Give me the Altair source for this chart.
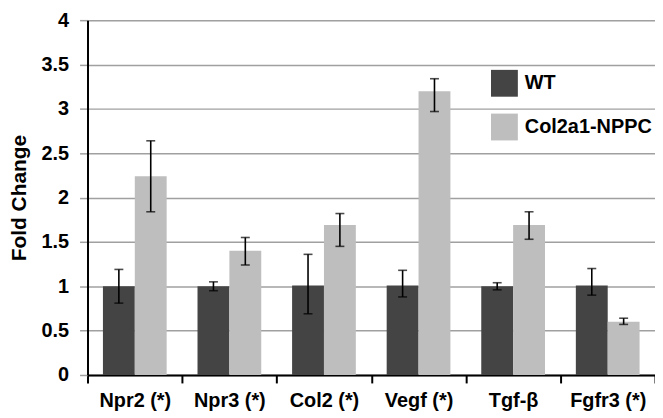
import altair as alt
import pandas as pd

genes = ["Npr2 (*)", "Npr3 (*)", "Col2 (*)", "Vegf (*)", "Tgf-β", "Fgfr3 (*)"]
groups = ["WT", "Col2a1-NPPC"]
colors = ["#444444", "#bebebe"]

wt_mean = [1.00, 1.00, 1.01, 1.01, 1.00, 1.01]
wt_low = [0.81, 0.95, 0.69, 0.88, 0.96, 0.90]
wt_high = [1.19, 1.05, 1.36, 1.18, 1.04, 1.20]

tg_mean = [2.24, 1.40, 1.69, 3.20, 1.69, 0.60]
tg_low = [1.84, 1.24, 1.45, 2.97, 1.53, 0.57]
tg_high = [2.64, 1.55, 1.82, 3.34, 1.84, 0.64]

rows = []
for i, g in enumerate(genes):
    rows.append({"gene": g, "group": "WT", "mean": wt_mean[i], "low": wt_low[i], "high": wt_high[i]})
    rows.append({"gene": g, "group": "Col2a1-NPPC", "mean": tg_mean[i], "low": tg_low[i], "high": tg_high[i]})
df = pd.DataFrame(rows)

FONT = "Liberation Sans"

x_enc = alt.X(
    "gene:N", sort=genes,
    scale=alt.Scale(paddingInner=0, paddingOuter=0),
    axis=alt.Axis(
        title=None, labelAngle=0, tickBand="extent", grid=False,
        domainColor="black", domainWidth=2, tickColor="black", tickWidth=2,
        tickSize=8, labelFont=FONT, labelFontSize=20, labelFontWeight="bold",
        labelColor="black", labelPadding=8,
    ),
)
xo_enc = alt.XOffset("group:N", sort=groups, scale=alt.Scale(paddingInner=0, paddingOuter=0.484))
y_scale = alt.Scale(domain=[0, 4], nice=False)
y_axis = alt.Axis(
    values=[0, 0.5, 1, 1.5, 2, 2.5, 3, 3.5, 4], format="~g",
    domainColor="black", domainWidth=2, gridColor="#a0a0a0", gridWidth=1.5,
    tickColor="#a0a0a0", tickWidth=1.5, tickSize=8,
    labelFont=FONT, labelFontSize=20, labelFontWeight="bold", labelColor="black",
    labelPadding=11, titleFont=FONT, titleFontSize=21, titleFontWeight="bold",
    titleColor="black", titlePadding=12,
)

base = alt.Chart(df).encode(x=x_enc, xOffset=xo_enc)

bars = base.mark_bar().encode(
    y=alt.Y("mean:Q", scale=y_scale, axis=y_axis, title="Fold Change"),
    color=alt.Color(
        "group:N", sort=groups,
        scale=alt.Scale(domain=groups, range=colors),
        legend=alt.Legend(
            title=None, orient="none", legendX=406, legendY=50,
            symbolType="square", symbolSize=729, symbolStrokeWidth=0,
            labelFont=FONT, labelFontSize=20, labelFontWeight="bold",
            labelColor="black", rowPadding=17, padding=0, labelOffset=7,
        ),
    ),
)

rules = base.mark_rule(color="black", strokeWidth=1.6).encode(
    y=alt.Y("low:Q", scale=y_scale, title="Fold Change"), y2="high:Q"
)
cap_lo = base.mark_tick(color="black", thickness=1.6, size=9, orient="horizontal").encode(
    y=alt.Y("low:Q", scale=y_scale, title="Fold Change")
)
cap_hi = base.mark_tick(color="black", thickness=1.6, size=9, orient="horizontal").encode(
    y=alt.Y("high:Q", scale=y_scale, title="Fold Change")
)

chart = alt.layer(bars, rules, cap_lo, cap_hi).properties(
    width=571, height=357,
    autosize=alt.AutoSizeParams(type="none"),
    padding={"left": 80, "top": 11, "right": 0, "bottom": 36},
).configure_view(stroke=None).configure(background="white")

chart.save("out.html", embed_options={"renderer": "svg", "actions": False})
